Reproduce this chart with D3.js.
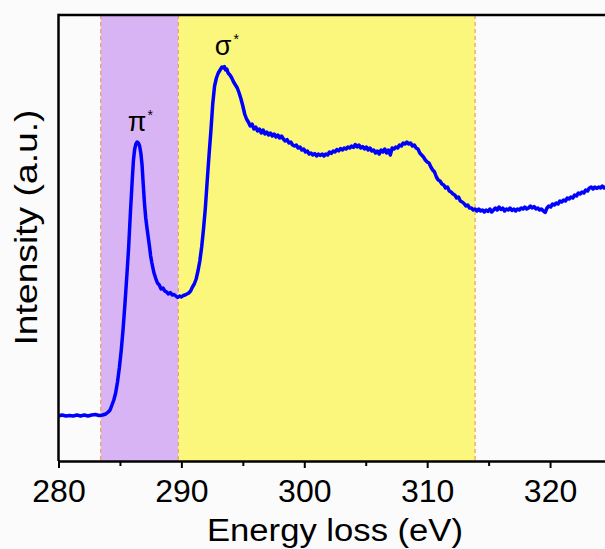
<!DOCTYPE html>
<html>
<head>
<meta charset="utf-8">
<script src="https://cdn.jsdelivr.net/npm/d3@7"></script>
<style>
  html, body { margin: 0; padding: 0; background: #fbfbfb; }
  svg { display: block; }
  text { font-family: "Liberation Sans", Arial, Helvetica, sans-serif; fill: #000; }
</style>
</head>
<body>
<svg id="chart" width="605" height="549"></svg>
<script>
// ---- data ----
const xDomain = [280, 325];
const yDomain = [0, 446];
const majorTicks = [280, 290, 300, 310, 320];
const minorTicks = [285, 295, 305, 315, 325];
const piRegion = [283.43, 289.75];
const sigmaRegion = [289.75, 313.9];
const peakLabels = [
  { name: "π", E: 286.4, I: 319 },
  { name: "σ", E: 293.4, I: 394 }
];
// [energy loss (eV), intensity (a.u.)]
const spectrum = [
  [280.0,45],[280.3,46],[280.6,45],[280.9,45.5],[281.2,45],[281.5,46],[281.8,45],[282.1,46],
  [282.4,45],[282.7,46],[283.0,46.5],[283.3,45.5],[283.6,46],[283.85,47],[284.05,49],[284.2,51],
  [284.35,56],[284.5,61],[284.65,68],[284.8,79],[284.95,93],[285.1,110],[285.25,131],[285.4,156],
  [285.55,183],[285.7,212],[285.85,248],[286.0,281],[286.1,301],[286.2,312],[286.3,317],[286.4,319],
  [286.5,318],[286.6,315],[286.7,308],[286.8,296],[286.9,276],[287.0,257],[287.1,243],[287.2,233],
  [287.3,224],[287.4,215],[287.5,205],[287.6,198],[287.75,189],[287.9,183],[288.05,178],[288.2,176],
  [288.35,172],[288.5,173],[288.65,170],[288.8,169],[288.95,167],[289.1,168.5],[289.25,166],[289.4,166.5],
  [289.55,165],[289.7,163.5],[289.85,165],[290.0,164],[290.15,165.5],[290.3,166],[290.45,167],[290.6,168],
  [290.75,170],[290.9,174],[291.05,177],[291.2,182],[291.35,190],[291.5,200],[291.65,214],[291.8,232],
  [291.95,253],[292.1,280],[292.25,306],[292.4,330],[292.55,357],[292.7,375],[292.85,383],[293.0,388],
  [293.15,391],[293.3,394],[293.4,393],[293.5,394.5],[293.6,391],[293.7,392],[293.8,388],[293.95,386],
  [294.1,383],[294.25,379],[294.4,376],[294.55,373],[294.7,368],[294.85,362],[295.0,355],[295.15,347],
  [295.3,342],[295.45,339],[295.6,335],[295.75,337],[295.9,332],[296.05,334],[296.2,330],[296.35,332],
  [296.5,328],[296.65,331],[296.8,327],[296.95,329],[297.1,326],[297.25,328],[297.4,325],[297.55,327],
  [297.7,324],[297.85,326],[298.0,323],[298.15,325],[298.3,322],[298.45,320],[298.6,321.5],[298.75,318],
  [298.9,319],[299.05,316],[299.2,315],[299.35,316],[299.5,313],[299.65,314],[299.8,311],[299.95,312],
  [300.1,309],[300.25,310],[300.4,307],[300.55,308],[300.7,306],[300.85,307.5],[301.0,305],[301.15,307],
  [301.3,305.5],[301.45,307],[301.6,305],[301.75,307],[301.9,306],[302.05,309],[302.2,307.5],[302.35,310],
  [302.5,309],[302.65,311.5],[302.8,310],[302.95,312.5],[303.1,311],[303.25,313],[303.4,312],[303.55,314],
  [303.7,313],[303.85,315],[304.0,313.5],[304.15,316.5],[304.3,314],[304.45,316],[304.6,313],[304.75,314.5],
  [304.9,312],[305.05,314],[305.2,311],[305.35,313],[305.5,310],[305.65,311],[305.8,308],[305.95,310],
  [306.1,307],[306.25,311],[306.4,309],[306.55,312],[306.7,308],[306.85,311],[307.0,306],[307.15,313],
  [307.3,312],[307.45,314],[307.6,313],[307.75,316],[307.9,315],[308.05,318],[308.2,317],[308.35,319],
  [308.5,317],[308.65,318],[308.8,315],[308.95,316],[309.1,313],[309.25,312],[309.4,308],[309.55,306],
  [309.7,304],[309.85,301],[310.0,299],[310.15,298],[310.3,294],[310.45,291],[310.6,289],[310.75,284],
  [310.9,281],[311.05,280],[311.2,277],[311.35,276],[311.5,273],[311.65,274],[311.8,270],[311.95,269],
  [312.1,267],[312.25,266],[312.4,263],[312.55,264],[312.7,260],[312.85,259],[313.0,257.5],[313.15,255],
  [313.3,256],[313.45,253],[313.6,253],[313.75,251],[313.9,252],[314.05,250],[314.2,252],[314.35,250],
  [314.5,251],[314.65,249],[314.8,251],[314.95,249.5],[315.1,252],[315.25,249],[315.4,251],[315.55,253],
  [315.7,251],[315.85,254],[316.0,251.5],[316.15,253],[316.3,250],[316.45,252],[316.6,251],[316.75,253],
  [316.9,250.5],[317.05,252],[317.2,250],[317.35,252],[317.5,251],[317.65,253],[317.8,252],[317.95,254],
  [318.1,252],[318.25,253],[318.4,255],[318.55,253],[318.7,254.5],[318.85,252],[319.0,253],[319.15,251],
  [319.3,252],[319.45,250],[319.6,248.5],[319.75,253],[319.9,255],[320.05,254],[320.2,257],[320.35,256],
  [320.5,258],[320.65,257],[320.8,260],[320.95,259],[321.1,261],[321.25,260],[321.4,263],[321.55,262],
  [321.7,264],[321.85,263],[322.0,266],[322.15,265],[322.3,268],[322.45,267],[322.6,269],[322.75,268],
  [322.9,271],[323.05,270],[323.2,273],[323.35,274],[323.5,272],[323.65,274],[323.8,272.5],[323.95,274],
  [324.1,273],[324.25,275],[324.4,273],[324.55,274],[324.7,273]
];

// ---- layout ----
const svg = d3.select("#chart");
const mLeft = 58.5, mRight = 611.5, mTop = 15, mBottom = 461;
const x = d3.scaleLinear().domain(xDomain).range([mLeft, mRight]);
const y = d3.scaleLinear().domain(yDomain).range([mBottom, mTop]);

// shaded regions
svg.append("rect")
  .attr("x", x(piRegion[0])).attr("y", mTop)
  .attr("width", x(piRegion[1]) - x(piRegion[0])).attr("height", mBottom - mTop)
  .attr("fill", "#d9b4f5");
svg.append("rect")
  .attr("x", x(sigmaRegion[0])).attr("y", mTop)
  .attr("width", x(sigmaRegion[1]) - x(sigmaRegion[0])).attr("height", mBottom - mTop)
  .attr("fill", "#fbf67c");

// dashed boundaries
[piRegion[0], piRegion[1], sigmaRegion[1]].forEach(v => {
  svg.append("line")
    .attr("x1", x(v)).attr("x2", x(v)).attr("y1", mTop).attr("y2", mBottom)
    .attr("stroke", "#eba760").attr("stroke-width", 1.3)
    .attr("stroke-dasharray", "4,3");
});

// spectrum
svg.append("path")
  .datum(spectrum)
  .attr("fill", "none")
  .attr("stroke", "#0000ff")
  .attr("stroke-width", 3.5)
  .attr("stroke-linejoin", "round")
  .attr("d", d3.line().x(d => x(d[0])).y(d => y(d[1])));

// frame: top border + left axis
svg.append("line").attr("x1", mLeft).attr("x2", mRight).attr("y1", mTop).attr("y2", mTop)
  .attr("stroke", "#000").attr("stroke-width", 2.5);
svg.append("line").attr("x1", mLeft).attr("x2", mLeft).attr("y1", mTop - 1.25).attr("y2", mBottom)
  .attr("stroke", "#000").attr("stroke-width", 2.5);

// x axis
const xAxis = d3.axisBottom(x).tickValues(majorTicks).tickSize(7).tickSizeOuter(0).tickPadding(11)
  .tickFormat(d3.format("d"));
const gx = svg.append("g").attr("transform", `translate(0,${mBottom})`).call(xAxis);
gx.select(".domain").attr("stroke", "#000").attr("stroke-width", 2.5);
gx.selectAll(".tick line").attr("stroke", "#000").attr("stroke-width", 2);
gx.selectAll(".tick text")
  .attr("font-size", 32).attr("font-family", "'Liberation Sans', Arial, sans-serif")
  .attr("fill", "#000");
const xMinor = d3.axisBottom(x).tickValues(minorTicks).tickSize(5).tickSizeOuter(0).tickFormat("");
const gxm = svg.append("g").attr("transform", `translate(0,${mBottom})`).call(xMinor);
gxm.select(".domain").remove();
gxm.selectAll(".tick line").attr("stroke", "#000").attr("stroke-width", 2);

// axis titles
svg.append("text")
  .attr("x", 335).attr("y", 541)
  .attr("text-anchor", "middle")
  .attr("font-size", 31)
  .attr("textLength", 256).attr("lengthAdjust", "spacingAndGlyphs")
  .text("Energy loss (eV)");
svg.append("text")
  .attr("transform", "translate(37,227.5) rotate(-90)")
  .attr("text-anchor", "middle")
  .attr("font-size", 32)
  .attr("textLength", 236).attr("lengthAdjust", "spacingAndGlyphs")
  .text("Intensity (a.u.)");

// peak labels
peakLabels.forEach((p, i) => {
  const cx = x(p.E);
  const by = y(p.I) - (i === 0 ? 11 : 12);
  svg.append("text")
    .attr("x", cx).attr("y", by)
    .attr("text-anchor", "middle")
    .attr("font-size", 27)
    .text(p.name);
  svg.append("text")
    .attr("x", cx + 13).attr("y", by - 11)
    .attr("text-anchor", "middle")
    .attr("font-size", 14)
    .text("*");
});
</script>
</body>
</html>
